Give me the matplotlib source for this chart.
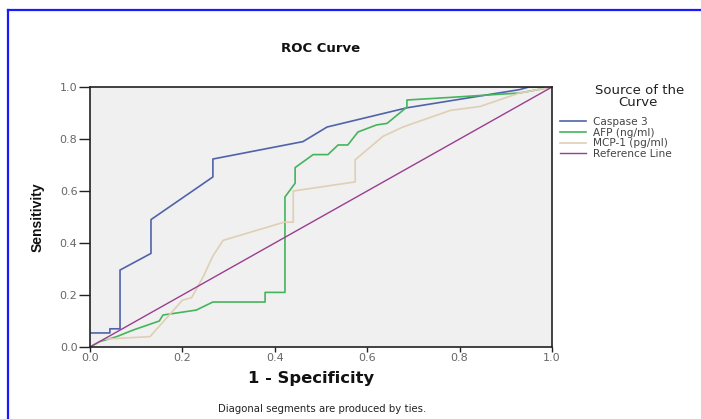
import matplotlib
matplotlib.use("Agg")
import matplotlib.pyplot as plt
from matplotlib.lines import Line2D

plt.rcParams['font.family'] = ['DejaVu Sans']

# ---- data ----
caspase_x = [0.0, 0.043, 0.043, 0.065, 0.065, 0.132, 0.132, 0.266, 0.266, 0.461, 0.513, 0.686, 0.93, 0.95, 1.0]
caspase_y = [0.054, 0.054, 0.07, 0.07, 0.296, 0.36, 0.49, 0.654, 0.723, 0.79, 0.846, 0.92, 0.99, 1.0, 1.0]

afp_x = [0.0, 0.02, 0.058, 0.093, 0.15, 0.158, 0.23, 0.266, 0.379, 0.379, 0.422, 0.422, 0.444, 0.444,
         0.483, 0.515, 0.537, 0.558, 0.58, 0.62, 0.643, 0.686, 0.686, 0.78, 0.93, 1.0]
afp_y = [0.0, 0.02, 0.04, 0.065, 0.10, 0.123, 0.142, 0.173, 0.173, 0.21, 0.21, 0.577, 0.63, 0.69,
         0.74, 0.74, 0.777, 0.777, 0.827, 0.854, 0.86, 0.923, 0.95, 0.96, 0.977, 1.0]

mcp_x = [0.0, 0.03, 0.13, 0.16, 0.2, 0.22, 0.245, 0.266, 0.288, 0.42, 0.44, 0.44, 0.574, 0.574,
         0.634, 0.677, 0.78, 0.844, 0.93, 1.0]
mcp_y = [0.0, 0.03, 0.04, 0.10, 0.18, 0.19, 0.27, 0.35, 0.41, 0.48, 0.48, 0.60, 0.635, 0.72,
         0.81, 0.846, 0.91, 0.925, 0.977, 1.0]

ref_x = [0.0, 1.0]
ref_y = [0.0, 1.0]

series_labels = ["Caspase 3", "AFP (ng/ml)", "MCP-1 (pg/ml)", "Reference Line"]
tick_vals = [0.0, 0.2, 0.4, 0.6, 0.8, 1.0]
tick_labels = ["0.0", "0.2", "0.4", "0.6", "0.8", "1.0"]

W, H = 701, 419
fig = plt.figure(figsize=(W / 100, H / 100), dpi=100)
fig.patch.set_facecolor("white")

# blue frame (left and top edges visible)
fig.add_artist(Line2D([7.5 / W, 7.5 / W], [0, 1 - 10.5 / H], color="#1a1aff", lw=1.6, transform=fig.transFigure))
fig.add_artist(Line2D([7.5 / W, 1], [1 - 10.5 / H, 1 - 10.5 / H], color="#1a1aff", lw=1.6, transform=fig.transFigure))

ax = fig.add_axes([90 / W, (H - 347) / H, 462 / W, 260 / H])
ax.set_facecolor("#f0f0f0")

ax.plot(caspase_x, caspase_y, color="#5063aa", lw=1.2, label=series_labels[0])
ax.plot(afp_x, afp_y, color="#45b45c", lw=1.2, label=series_labels[1])
ax.plot(mcp_x, mcp_y, color="#dfcfb4", lw=1.2, label=series_labels[2])
ax.plot(ref_x, ref_y, color="#9a3d8f", lw=1.0, label=series_labels[3])

ax.set_xlim(0, 1)
ax.set_ylim(0, 1)
ax.set_xticks(tick_vals)
ax.set_xticklabels(tick_labels)
ax.set_yticks(tick_vals)
ax.set_yticklabels(tick_labels)
ax.tick_params(axis="both", direction="out", width=1, colors="#222222",
               labelsize=8, labelcolor="#666666", pad=1)
ax.tick_params(axis="y", length=8)
ax.tick_params(axis="x", length=3.5)
for s in ax.spines.values():
    s.set_color("#222222")
    s.set_linewidth(1.2)

ax.set_xlabel("1 - Specificity", fontsize=11.8, fontweight="bold", color="#111111")
ax.xaxis.set_label_coords((311 - 90) / 462, -(378 - 347) / 260)
ax.xaxis.label.set_va("center")
ax.set_ylabel("Sensitivity", fontsize=10, fontweight="bold", color="#111111",
              family="Liberation Sans")
ax.yaxis.set_label_coords(-(90 - 38) / 462, 0.5)
ax.yaxis.label.set_va("center")

fig.text(321 / W, 1 - 48 / H, "ROC Curve", ha="center", va="center", fontsize=9.5, fontweight="bold",
         color="#111111")
fig.text(322 / W, 1 - 409 / H, "Diagonal segments are produced by ties.", ha="center", va="center",
         fontsize=7.3, color="#222222")

# legend title
fig.text(640 / W, 1 - 91 / H, "Source of the", ha="center", va="center", fontsize=9.5, color="#222222")
fig.text(638 / W, 1 - 103 / H, "Curve", ha="center", va="center", fontsize=9.5, color="#222222")

leg = ax.legend(loc="upper left", bbox_to_anchor=(560 / W, 1 - 117 / H), bbox_transform=fig.transFigure,
                frameon=False, fontsize=7.6, handlelength=2.5, handletextpad=0.6,
                labelspacing=0.06, borderaxespad=0, borderpad=0)
for t in leg.get_texts():
    t.set_color("#444444")

fig.savefig("out.png", dpi=100)
